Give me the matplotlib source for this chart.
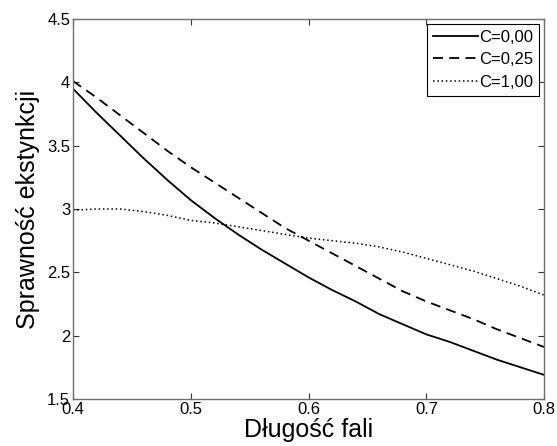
import matplotlib
matplotlib.use("Agg")
import matplotlib.pyplot as plt

plt.rcParams["font.family"] = ["Liberation Sans", "DejaVu Sans"]

# dane
dlugosc = [0.40, 0.42, 0.44, 0.46, 0.48, 0.50, 0.52, 0.54, 0.56, 0.58, 0.60,
           0.62, 0.64, 0.66, 0.68, 0.70, 0.72, 0.74, 0.76, 0.78, 0.80]
c000 = [3.95, 3.76, 3.58, 3.40, 3.23, 3.07, 2.93, 2.80, 2.68, 2.57, 2.46,
        2.36, 2.27, 2.17, 2.09, 2.01, 1.95, 1.88, 1.81, 1.75, 1.69]
c025 = [4.01, 3.88, 3.74, 3.60, 3.46, 3.33, 3.21, 3.09, 2.97, 2.85, 2.75,
        2.65, 2.55, 2.45, 2.35, 2.27, 2.20, 2.13, 2.05, 1.98, 1.91]
c100 = [2.99, 3.00, 3.00, 2.98, 2.95, 2.91, 2.89, 2.86, 2.83, 2.80, 2.77,
        2.75, 2.73, 2.70, 2.66, 2.61, 2.56, 2.51, 2.45, 2.39, 2.32]
etykiety = ["C=0,00", "C=0,25", "C=1,00"]

fig = plt.figure(figsize=(5.57, 4.46), dpi=100)
ax = fig.add_axes([0.131, 0.1054, 0.846, 0.852])

ax.plot(dlugosc, c000, color="black", lw=1.3, linestyle="-", label=etykiety[0])
ax.plot(dlugosc, c025, color="black", lw=1.3, linestyle=(0, (5.5, 3.5)), label=etykiety[1])
ax.plot(dlugosc, c100, color="black", lw=1.1, linestyle=(0, (1, 1.8)), label=etykiety[2])

ax.set_xlim(0.4, 0.8)
ax.set_ylim(1.5, 4.5)
ax.set_xticks([0.4, 0.5, 0.6, 0.7, 0.8])
ax.set_xticklabels(["0.4", "0.5", "0.6", "0.7", "0.8"])
ax.set_yticks([1.5, 2, 2.5, 3, 3.5, 4, 4.5])
ax.set_yticklabels(["1.5", "2", "2.5", "3", "3.5", "4", "4.5"])
ax.tick_params(direction="in", length=4, width=0.8, top=True, right=True,
               labelsize=12, pad=2, color="#333333")
for s in ax.spines.values():
    s.set_color("#707070")
    s.set_linewidth(1.0)

ax.set_xlabel("Długość fali", fontsize=18, labelpad=1)
ax.set_ylabel("Sprawność ekstynkcji", fontsize=18, labelpad=5)

leg = ax.legend(loc="upper right", fontsize=12, handlelength=2.7, handletextpad=0.1,
                labelspacing=0.45, borderaxespad=0.3, borderpad=0.35, fancybox=False,
                framealpha=1)
leg.get_frame().set_edgecolor("black")
leg.get_frame().set_linewidth(0.8)

plt.savefig("out.png", dpi=100)
